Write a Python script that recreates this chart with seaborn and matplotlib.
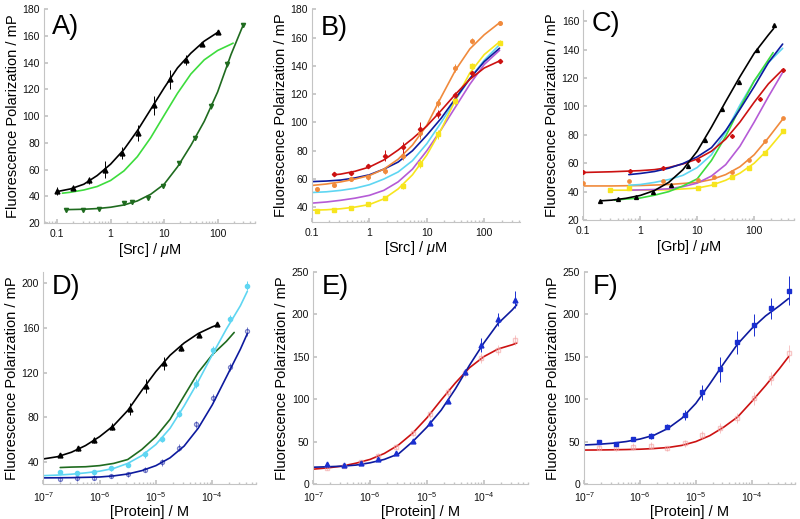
import matplotlib
matplotlib.use("Agg")
import matplotlib.pyplot as plt
import matplotlib.ticker as mticker
import seaborn as sns

# ------------------------------------------
# data
# ------------------------------------------

# A) [Src] / uM
A_black_x = [0.1, 0.2, 0.4, 0.8, 1.6, 3.2, 6.4, 12.8, 25.6, 51.2, 100]
A_black_y = [44, 46.5, 52, 60, 72, 87.5, 108, 127.5, 142, 153.5, 162.5]
A_black_err = [3, 2, 2.5, 6, 4.5, 6, 7, 7, 4, 1.5, 1]
A_black_fit_x = [0.1, 0.178, 0.316, 0.562, 1, 1.78, 3.16, 5.62, 10, 17.8, 31.6, 56.2, 100]
A_black_fit_y = [43.5, 45.5, 49, 55.5, 64, 75, 89, 105, 121, 136, 147, 156, 162.5]
A_lgreen_fit_x = [0.126, 0.178, 0.316, 0.562, 1, 1.78, 3.16, 5.62, 10, 17.8, 31.6, 56.2, 100, 178, 195]
A_lgreen_fit_y = [42.3, 43, 44.7, 47.3, 51.8, 59, 69.6, 83.8, 100.5, 117, 131.4, 142, 149, 153.7, 154.5]
A_dgreen_x = [0.15, 0.3, 0.6, 1.8, 2.5, 5, 9.4, 18.8, 37.5, 75, 150, 300]
A_dgreen_y = [30, 30, 30.5, 35, 36, 39, 48, 65, 83.5, 107.5, 139, 168]
A_dgreen_err = [1, 0.5, 1, 1, 1.5, 1, 1.5, 1.5, 1.5, 2, 2, 1]
A_dgreen_fit_x = [0.15, 0.316, 0.562, 1, 1.78, 3.16, 5.62, 10, 17.8, 31.6, 56.2, 100, 178, 300]
A_dgreen_fit_y = [30, 30.3, 30.8, 31.8, 33.5, 36.5, 41.5, 49, 62, 78, 96, 118, 146, 168]

# B) [Src] / uM
B_x = [0.12, 0.24, 0.48, 0.96, 1.9, 3.8, 7.7, 15.4, 31, 62, 185]
B_red_x = [0.24, 0.48, 0.96, 1.9, 3.8, 7.7, 15.4, 31, 62, 185]
B_red_y = [63.3, 64.5, 69.2, 76.5, 82.4, 95.3, 106, 119.4, 134.7, 143.4]
B_red_err = [1, 1, 1.5, 4, 4, 5, 3, 2, 2, 1.5]
B_orange_y = [53, 55.7, 60, 61.5, 65.6, 76.3, 92.5, 113.7, 138.5, 157.8, 170.5]
B_orange_err = [1, 1, 1.5, 2, 2, 3, 4, 3, 3, 2, 1]
B_yellow_y = [37.6, 38, 39.7, 42.1, 46.8, 55, 71, 91.6, 115.4, 140, 156.5]
B_yellow_err = [1, 1, 1, 1, 1.5, 2, 3, 3, 3, 2, 2]
B_fit_x = [0.1, 0.178, 0.316, 0.562, 1, 1.78, 3.16, 5.62, 10, 17.8, 31.6, 56.2, 100, 185]
B_red_fit_x = [0.24, 0.316, 0.562, 1, 1.78, 3.16, 5.62, 10, 17.8, 31.6, 56.2, 100, 185]
B_red_fit_y = [63, 63.5, 65.5, 68.5, 73.5, 80.5, 88.5, 97.5, 108.5, 120, 130.5, 138.5, 143.5]
B_orange_fit_y = [55.5, 56.5, 58, 60, 62.5, 67, 74, 84, 98, 118, 137, 152, 162, 170.5]
B_blue_fit_y = [58.2, 58.6, 59.3, 60.8, 63, 67, 72, 80, 91, 103, 117, 131, 143, 152.5]
B_cyan_fit_y = [50.5, 51, 52, 53.5, 56, 60, 65, 73, 85, 100, 116, 131, 144, 155]
B_purple_fit_y = [43, 43.8, 45, 46.5, 48.5, 52, 58, 67, 80, 95, 111, 127, 141, 151]
B_yellow_fit_y = [38, 38.3, 39, 40.2, 42, 46, 53, 63, 77, 95, 116, 135, 148, 157]

# C) [Grb] / uM
C_black_x = [0.2, 0.41, 0.84, 1.7, 3.4, 6.9, 13.5, 27.5, 55, 110, 220]
C_black_y = [33.4, 34.6, 36.5, 40, 45, 58.3, 76.5, 98.1, 117.2, 140, 157.7]
C_black_fit_x = [0.2, 0.316, 0.562, 1, 1.78, 3.16, 5.62, 10, 17.8, 31.6, 56.2, 100, 178, 220]
C_black_fit_y = [33.5, 34, 35.3, 37.3, 40.8, 46.5, 55.5, 68.5, 85.5, 103.5, 121, 137.5, 150.5, 155]
C_green_fit_x = [0.355, 0.562, 1, 1.78, 3.16, 5.62, 10, 17.8, 31.6, 56.2, 100, 178, 215]
C_green_fit_y = [34, 34.8, 35.5, 37.5, 40, 44, 49, 62, 79, 99, 118, 133, 138]
C_bc_fit_x = [0.63, 1, 1.78, 3.16, 5.62, 10, 17.8, 31.6, 56.2, 100, 178, 316]
C_blue_fit_y = [52, 52.8, 54.2, 56.5, 59.8, 64.5, 71, 83, 98, 114, 131, 144]
C_cyan_fit_y = [44.5, 45, 46.5, 48.5, 51.5, 57, 66, 82, 101, 118, 131, 141]
C_red_x = [0.1, 0.65, 2.5, 10.5, 40, 125, 320]
C_red_y = [53.5, 54.6, 56.8, 62, 79.5, 105, 126]
C_red_fit_x = [0.1, 0.316, 1, 1.78, 3.16, 5.62, 10, 17.8, 31.6, 56.2, 100, 178, 316]
C_red_fit_y = [53.5, 54, 54.8, 55.5, 57, 59.5, 63, 68.5, 77, 89, 103, 116, 126]
C_orange_x = [0.1, 0.63, 2.5, 10.5, 20, 40, 81, 158, 320]
C_orange_y = [45.9, 47.8, 47.8, 48.2, 50.6, 54.1, 62.3, 75.8, 91.8]
C_orange_fit_x = [0.1, 0.316, 1, 3.16, 10, 17.8, 31.6, 56.2, 100, 178, 316]
C_orange_fit_y = [44, 44, 44.3, 45, 46.5, 48.5, 52, 57.5, 66, 78, 91]
C_purple_fit_x = [0.63, 1.78, 3.16, 5.62, 10, 17.8, 31.6, 56.2, 100, 178, 316]
C_purple_fit_y = [41, 41.5, 42, 43.5, 46, 51, 59, 72, 89, 107, 124]
C_yellow_x = [0.3, 0.63, 10.5, 20, 40, 81, 158, 320]
C_yellow_y = [41.2, 42.3, 42.8, 45.2, 50.1, 56.5, 67.1, 82.4]
C_yellow_fit_x = [0.3, 1, 3.16, 10, 17.8, 31.6, 56.2, 100, 178, 316]
C_yellow_fit_y = [41, 41, 41.3, 42.5, 44.5, 48, 53, 60, 70, 82]

# D) [Protein] / M
D_black_x = [2e-7, 4.1e-7, 8.1e-7, 1.66e-6, 3.4e-6, 6.6e-6, 1.38e-5, 2.8e-5, 5.75e-5, 1.2e-4]
D_black_y = [46, 52, 59.5, 71.4, 87.3, 108, 128.2, 142.3, 153.6, 163.2]
D_black_err = [2, 2, 3, 3, 5, 6, 6, 3, 2, 1]
D_black_fit_x = [1e-7, 1.78e-7, 3.16e-7, 5.62e-7, 1e-6, 1.78e-6, 3.16e-6, 5.62e-6, 1e-5,
                 1.78e-5, 3.16e-5, 5.62e-5, 1e-4, 1.2e-4]
D_black_fit_y = [42.5, 44.5, 48.5, 54.5, 62.5, 72.5, 86, 104, 121, 135.5, 146.5, 155, 161, 162.5]
D_green_fit_x = [2e-7, 3.16e-7, 5.62e-7, 1e-6, 1.78e-6, 3.16e-6, 5.62e-6, 1e-5, 1.78e-5,
                 3.16e-5, 5.62e-5, 1e-4, 1.78e-4, 2.45e-4]
D_green_fit_y = [34.8, 35.2, 35.5, 36.5, 38.5, 42, 51, 62.5, 78, 99, 120, 136, 148, 156]
D_x = [2e-7, 4e-7, 8.1e-7, 1.62e-6, 3.25e-6, 6.5e-6, 1.3e-5, 2.6e-5, 5.1e-5, 1.05e-4, 2.1e-4, 4.2e-4]
D_cyan_y = [31, 30, 31, 34, 37, 46.5, 60.5, 83, 110, 140, 168.5, 198]
D_cyan_err = [2, 2, 2, 2, 2, 3, 3, 3, 4, 4, 3, 4]
D_blue_y = [24.5, 25, 25.7, 27, 28.7, 33, 39.5, 52.6, 73.5, 96.8, 125, 157]
D_blue_err = [2, 2, 2, 2, 2, 2, 3, 3, 3, 4, 4, 4]
D_fit_x = [1e-7, 1.78e-7, 3.16e-7, 5.62e-7, 1e-6, 1.78e-6, 3.16e-6, 5.62e-6, 1e-5, 1.78e-5,
           3.16e-5, 5.62e-5, 1e-4, 1.78e-4, 3.16e-4, 4.2e-4]
D_cyan_fit_y = [27.5, 28, 28.8, 30, 31.5, 34, 38.5, 45.5, 55.5, 70, 90, 112, 136, 159, 180, 193]
D_blue_fit_y = [25.5, 25.6, 25.7, 26, 26.3, 27.3, 29, 32, 36.5, 43.5, 54, 70, 91, 116, 141, 155]

# E) [Protein] / M
E_x = [1.76e-7, 3.5e-7, 7e-7, 1.4e-6, 2.8e-6, 5.6e-6, 1.12e-5, 2.3e-5, 4.6e-5, 9.1e-5, 1.8e-4, 3.6e-4]
E_blue_y = [23, 22, 24.5, 30, 37, 51, 72, 98, 132, 164, 194, 217]
E_blue_err = [2, 1, 1, 2, 2, 2, 3, 3, 4, 8, 8, 10]
E_red_y = [19, 21.5, 25.5, 33, 44, 60, 82, 108, 131, 148, 158, 170]
E_red_err = [2, 2, 2, 3, 3, 4, 4, 5, 5, 6, 6, 6]
E_fit_x = [1e-7, 1.78e-7, 3.16e-7, 5.62e-7, 1e-6, 1.78e-6, 3.16e-6, 5.62e-6, 1e-5, 1.78e-5,
           3.16e-5, 5.62e-5, 1e-4, 1.78e-4, 3.16e-4, 3.8e-4]
E_blue_fit_y = [19.8, 20.3, 21, 22.3, 25, 29, 35.5, 50, 67, 87, 112, 140, 166, 189, 205, 211]
E_red_fit_y = [17.5, 19, 21, 24.5, 29, 36, 46, 60, 78, 99, 119, 137, 150, 159, 164, 166]

# F) [Protein] / M
F_x = [1.8e-7, 3.7e-7, 7.6e-7, 1.55e-6, 3.1e-6, 6.4e-6, 1.3e-5, 2.7e-5, 5.5e-5, 1.1e-4, 2.2e-4, 4.6e-4]
F_blue_y = [49, 47.5, 53, 56.5, 67.5, 81.2, 107.9, 135, 166.8, 187.2, 206.8, 227.6]
F_blue_err = [2, 2, 2, 3, 3, 6, 9, 15, 14, 13, 12, 17]
F_red_y = [42.8, 42, 44, 45, 42, 47.9, 57.7, 65.5, 77.3, 100.9, 124.4, 153.8]
F_red_err = [3, 3, 4, 4, 3, 4, 5, 6, 6, 8, 8, 10]
F_fit_x = [1e-7, 1.78e-7, 3.16e-7, 5.62e-7, 1e-6, 1.78e-6, 3.16e-6, 5.62e-6, 1e-5, 1.78e-5,
           3.16e-5, 5.62e-5, 1e-4, 1.78e-4, 3.16e-4, 4.6e-4]
F_blue_fit_y = [46, 46.8, 48, 50, 53, 57.5, 65.5, 77.5, 95, 118, 142, 165, 183, 198, 210, 218.5]
F_red_fit_y = [40, 40.1, 40.3, 40.6, 41, 41.8, 43, 45.5, 50, 57, 67, 79, 97, 116, 136, 150]

# colours
BLACK = "#000000"
RED = "#cc1111"
ORANGE = "#f08a3c"
YELLOW = "#f7e51e"
CYAN = "#5fd6f2"
PURPLE = "#b55bd6"
NAVY = "#0d1a9e"
BLUE = "#1a2fd0"
LGREEN = "#3ddc3d"
DGREEN = "#1f6b1f"
PINK = "#f2a0a0"
AXIS = "#c4c4c4"

# ------------------------------------------
# style
# ------------------------------------------
sns.set_theme(style="ticks")
plt.rcParams["font.family"] = ["Liberation Sans", "DejaVu Sans"]
plt.rcParams["mathtext.fontset"] = "custom"
plt.rcParams["mathtext.rm"] = "Liberation Sans"
plt.rcParams["mathtext.it"] = "Liberation Sans:italic"
plt.rcParams["text.color"] = "black"
plt.rcParams["axes.labelcolor"] = "black"
plt.rcParams["xtick.labelcolor"] = "#111111"
plt.rcParams["ytick.labelcolor"] = "#111111"


def fit(ax, x, y, color, lw=1.2):
    sns.lineplot(x=x, y=y, ax=ax, color=color, lw=lw, estimator=None, sort=False)


def pts(ax, x, y, err, color, marker, ms=3, mfc=None, alpha=1.0):
    ax.errorbar(x, y, yerr=err, fmt=marker, ms=ms, color=color, mec=color,
                mfc=color if mfc is None else mfc, elinewidth=0.7, capsize=0,
                alpha=alpha, zorder=3)


def style(ax, letter, xlab, xlim, ylim, yticks, letter_y=0.99, micro=True):
    ax.set_xscale("log")
    ax.set_xlim(xlim)
    ax.set_ylim(ylim)
    ax.set_yticks(yticks)
    sns.despine(ax=ax)
    for s in ["left", "bottom"]:
        ax.spines[s].set_color(AXIS)
        ax.spines[s].set_linewidth(0.8)
    ax.tick_params(which="both", direction="in", color=AXIS, labelsize=7.5, pad=3)
    ax.tick_params(axis="x", pad=4.5)
    ax.tick_params(which="major", length=3)
    ax.tick_params(which="minor", length=1.8)
    if micro:
        ax.xaxis.set_major_locator(mticker.FixedLocator([0.1, 1, 10, 100]))
        ax.xaxis.set_major_formatter(mticker.FuncFormatter(lambda v, p: f"{v:g}"))
    ax.xaxis.set_minor_locator(mticker.LogLocator(base=10, subs=range(2, 10), numticks=20))
    ax.xaxis.set_minor_formatter(mticker.NullFormatter())
    ax.set_xlabel(xlab, fontsize=10.5, labelpad=1)
    ax.set_ylabel("Fluorescence Polarization / mP", fontsize=10.5, labelpad=2)
    ax.text(0.04, letter_y, letter, transform=ax.transAxes, fontsize=19.5,
            ha="left", va="top")


fig = plt.figure(figsize=(8, 5.19), dpi=100)
axA = fig.add_axes([0.055, 0.5703, 0.2638, 0.4123])
axB = fig.add_axes([0.390, 0.5732, 0.2600, 0.4089])
axC = fig.add_axes([0.7291, 0.5761, 0.2634, 0.4046])
axD = fig.add_axes([0.0541, 0.0674, 0.2660, 0.4080])
axE = fig.add_axes([0.3916, 0.0674, 0.2684, 0.4090])
axF = fig.add_axes([0.7304, 0.0674, 0.2634, 0.4090])

# A
fit(axA, A_lgreen_fit_x, A_lgreen_fit_y, LGREEN)
fit(axA, A_dgreen_fit_x, A_dgreen_fit_y, DGREEN)
fit(axA, A_black_fit_x, A_black_fit_y, BLACK)
pts(axA, A_dgreen_x, A_dgreen_y, A_dgreen_err, DGREEN, "v", ms=3)
pts(axA, A_black_x, A_black_y, A_black_err, BLACK, "^", ms=3.5)
style(axA, "A)", "[Src] / $\\mu$M", (0.057, 500), (20, 180), range(20, 181, 20), 0.975)

# B
fit(axB, B_fit_x, B_purple_fit_y, PURPLE)
fit(axB, B_fit_x, B_cyan_fit_y, CYAN)
fit(axB, B_fit_x, B_yellow_fit_y, YELLOW)
fit(axB, B_fit_x, B_blue_fit_y, NAVY)
fit(axB, B_fit_x, B_orange_fit_y, ORANGE)
fit(axB, B_red_fit_x, B_red_fit_y, RED)
pts(axB, B_x, B_yellow_y, B_yellow_err, YELLOW, "s", ms=2.6)
pts(axB, B_x, B_orange_y, B_orange_err, ORANGE, "o", ms=2.6)
pts(axB, B_red_x, B_red_y, B_red_err, RED, "D", ms=2.2)
style(axB, "B)", "[Src] / $\\mu$M", (0.1, 420), (30, 180), range(40, 181, 20), 0.975)

# C
fit(axC, C_yellow_fit_x, C_yellow_fit_y, YELLOW)
fit(axC, C_orange_fit_x, C_orange_fit_y, ORANGE)
fit(axC, C_purple_fit_x, C_purple_fit_y, PURPLE)
fit(axC, C_bc_fit_x, C_cyan_fit_y, CYAN)
fit(axC, C_green_fit_x, C_green_fit_y, LGREEN)
fit(axC, C_red_fit_x, C_red_fit_y, RED)
fit(axC, C_bc_fit_x, C_blue_fit_y, NAVY)
fit(axC, C_black_fit_x, C_black_fit_y, BLACK)
pts(axC, C_yellow_x, C_yellow_y, None, YELLOW, "s", ms=2.4)
pts(axC, C_orange_x, C_orange_y, None, ORANGE, "o", ms=2.4)
pts(axC, C_red_x, C_red_y, None, RED, "D", ms=2)
pts(axC, C_black_x, C_black_y, None, BLACK, "^", ms=2.8)
style(axC, "C)", "[Grb] / $\\mu$M", (0.1, 500), (20, 168), range(20, 161, 20), 0.995)

# D
fit(axD, D_green_fit_x, D_green_fit_y, DGREEN)
fit(axD, D_fit_x, D_blue_fit_y, NAVY)
fit(axD, D_fit_x, D_cyan_fit_y, CYAN)
fit(axD, D_black_fit_x, D_black_fit_y, BLACK)
pts(axD, D_x, D_blue_y, D_blue_err, NAVY, "o", ms=2.8, mfc="none", alpha=0.55)
pts(axD, D_x, D_cyan_y, D_cyan_err, CYAN, "o", ms=3)
pts(axD, D_black_x, D_black_y, D_black_err, BLACK, "^", ms=3.5)
style(axD, "D)", "[Protein] / M", (1e-7, 6e-4), (20, 210), range(40, 201, 40), 0.99, micro=False)

# E
fit(axE, E_fit_x, E_red_fit_y, RED)
fit(axE, E_fit_x, E_blue_fit_y, NAVY)
pts(axE, E_x, E_red_y, E_red_err, PINK, "s", ms=3, mfc="none", alpha=0.6)
pts(axE, E_x, E_blue_y, E_blue_err, BLUE, "^", ms=3.5)
style(axE, "E)", "[Protein] / M", (1e-7, 6e-4), (0, 250), range(0, 251, 50), 0.99, micro=False)

# F
fit(axF, F_fit_x, F_red_fit_y, RED)
fit(axF, F_fit_x, F_blue_fit_y, NAVY)
pts(axF, F_x, F_red_y, F_red_err, PINK, "s", ms=3.5, mfc="none", alpha=0.6)
pts(axF, F_x, F_blue_y, F_blue_err, BLUE, "s", ms=3.5)
style(axF, "F)", "[Protein] / M", (1e-7, 6e-4), (0, 250), range(0, 251, 50), 0.99, micro=False)

fig.savefig("out.png", dpi=100)
